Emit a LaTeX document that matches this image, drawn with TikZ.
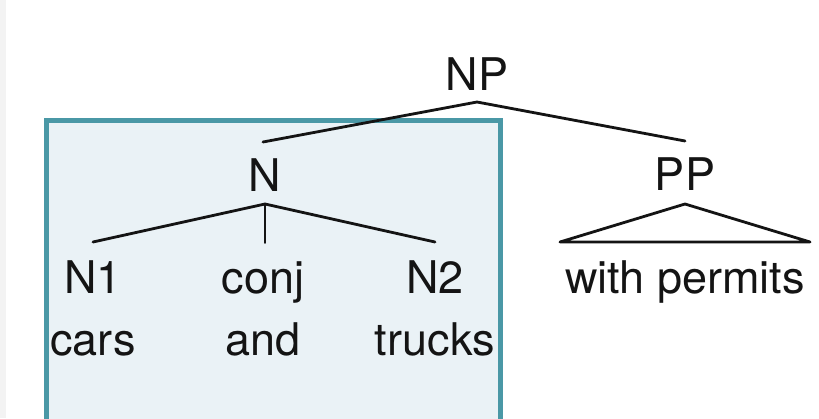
\documentclass[tikz,border=0pt]{standalone}
\usepackage{fontspec}
\setmainfont{TeX Gyre Heros}
\usetikzlibrary{calc}
\definecolor{boxedge}{HTML}{4A98A6}
\definecolor{boxfill}{HTML}{EAF2F6}
\definecolor{stripgray}{HTML}{F3F3F3}
\definecolor{ink}{HTML}{141414}
\begin{document}
\begin{tikzpicture}[x=1pt,y=-1pt,
  lbl/.style={anchor=base, inner sep=0pt, font=\fontsize{45}{54}\selectfont, text=ink},
  branch/.style={line width=2.8pt, draw=ink, line cap=round, line join=round}]
\useasboundingbox (0,0) rectangle (819,418);
\clip (0,0) rectangle (819,418);
\fill[white] (0,0) rectangle (819,418);
\fill[stripgray] (0,0) rectangle (6,418);
% highlighted coordination constituent
\draw[boxedge, fill=boxfill, line width=4.5pt] (46.5,120.5) rectangle (500.5,440);

% labels
\node[lbl] (NP) at (477,90) {NP};
\node[lbl] (N) at (265,191) {N};
\node[lbl] (PP) at (685,190) {PP};
\node[lbl] (N1) at (93,293) {N1};
\node[lbl] (conj) at (263,293) {conj};
\node[lbl] (N2) at (435,293) {N2};
\node[lbl] (cars) at (93,355) {cars};
\node[lbl] (and) at (263,355) {and};
\node[lbl] (trucks) at (435,355) {trucks};
\node[lbl] (wp) at (685,293) {with permits};

% branch attachment points
\coordinate (NPfoot) at ($(NP.base)+(0,12)$);
\coordinate (Ntop) at ($(N.base)+(-2,-49)$);
\coordinate (PPtop) at ($(PP.base)+(0,-49)$);
\coordinate (Nfoot) at ($(N.base)+(0,13)$);
\coordinate (N1top) at ($(N1.base)+(0,-51)$);
\coordinate (conjtop) at ($(Nfoot |- N1.base)+(0,-50)$);
\coordinate (N2top) at ($(N2.base)+(0,-51)$);
\coordinate (PPfoot) at ($(PP.base)+(0,14)$);
\coordinate (wpL) at ($(wp.base)+(-125,-51)$);
\coordinate (wpR) at ($(wp.base)+(125,-51)$);

% branches
\draw[branch] (Ntop) -- (NPfoot) -- (PPtop);
\draw[branch] (N1top) -- (Nfoot) -- (N2top);
\draw[branch, line width=1.8pt] (Nfoot) -- (conjtop);
\draw[branch] (wpL) -- (PPfoot) -- (wpR) -- cycle;
\end{tikzpicture}
\end{document}
